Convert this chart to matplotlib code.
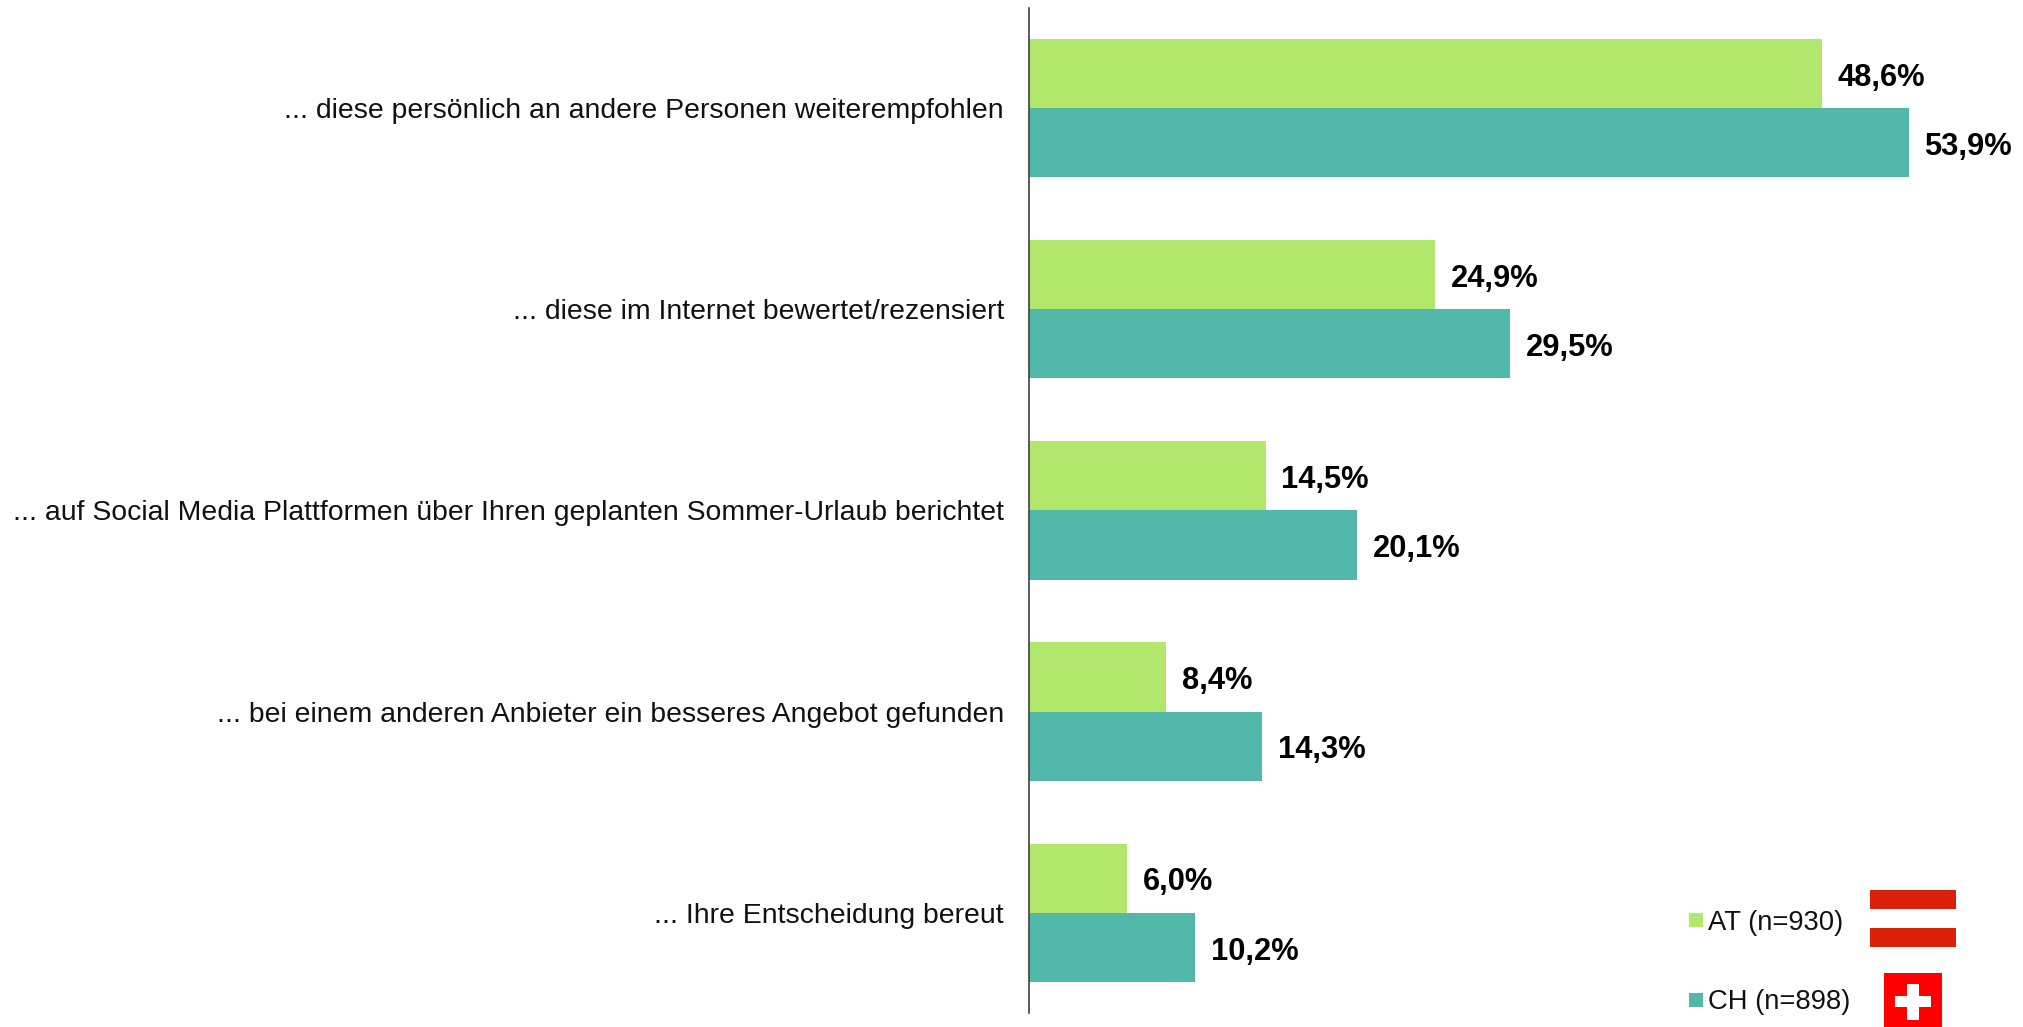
import matplotlib
matplotlib.use('Agg')
import matplotlib.pyplot as plt
import matplotlib.patches as mpatches
import numpy as np

plt.rcParams['font.family'] = ['Liberation Sans', 'DejaVu Sans']

# Data
categories = ['... diese persönlich an andere Personen weiterempfohlen',
              '... diese im Internet bewertet/rezensiert',
              '... auf Social Media Plattformen über Ihren geplanten Sommer-Urlaub berichtet',
              '... bei einem anderen Anbieter ein besseres Angebot gefunden',
              '... Ihre Entscheidung bereut']
at_values = [48.6, 24.9, 14.5, 8.4, 6.0]
ch_values = [53.9, 29.5, 20.1, 14.3, 10.2]
legend_labels = ['AT (n=930)', 'CH (n=898)']

W, H = 2024, 1027
green = '#B1E76A'
teal = '#52B9AA'

fig = plt.figure(figsize=(W / 100, H / 100), dpi=100)
ax = fig.add_axes([1029 / W, 1 - 1013 / H, 995 / W, 1005 / H])

y = np.arange(len(categories))
bar_h = 0.344
ax.barh(y - bar_h / 2, at_values, bar_h, color=green)
ax.barh(y + bar_h / 2, ch_values, bar_h, color=teal)

ax.set_xlim(0, 995 / 16.32)
ax.set_ylim((1013 - 108) / 201.2, (8 - 108) / 201.2)

for s in ['top', 'right', 'bottom']:
    ax.spines[s].set_visible(False)
ax.spines['left'].set_color('#404040')
ax.spines['left'].set_linewidth(1.2)
ax.set_xticks([])
ax.set_yticks(y)
ax.set_yticklabels(categories, fontsize=20.4, color='#111111')
ax.tick_params(axis='y', length=0, pad=18)

# Value labels
for i in y:
    ax.annotate(f'{at_values[i]:.1f}%'.replace('.', ','), (at_values[i], i - bar_h / 2),
                xytext=(11.3, -3), textcoords='offset points', va='center',
                fontsize=22.2, fontweight='bold', color='black')
    ax.annotate(f'{ch_values[i]:.1f}%'.replace('.', ','), (ch_values[i], i + bar_h / 2),
                xytext=(11.3, -3), textcoords='offset points', va='center',
                fontsize=22.2, fontweight='bold', color='black')

# Legend and flags, in pixel positions
def px_rect(x, y_top, w, h, color):
    fig.add_artist(mpatches.Rectangle((x / W, 1 - (y_top + h) / H), w / W, h / H,
                                      color=color, lw=0))

px_rect(1689, 913, 14, 14, green)
px_rect(1689, 993, 14, 14, teal)
fig.text(1708 / W, 1 - 923 / H, legend_labels[0], fontsize=19.7, va='center', color='#111111')
fig.text(1708 / W, 1 - 1002 / H, legend_labels[1], fontsize=19.7, va='center', color='#111111')

# Austrian flag
px_rect(1870, 890, 86, 19, '#DA2007')
px_rect(1870, 928, 86, 19, '#DA2007')
# Swiss flag
px_rect(1884, 973, 58, 54, '#FF0000')
px_rect(1895, 996, 36, 11, 'white')
px_rect(1907, 984, 12, 36, 'white')

fig.savefig('out.png', dpi=100)
